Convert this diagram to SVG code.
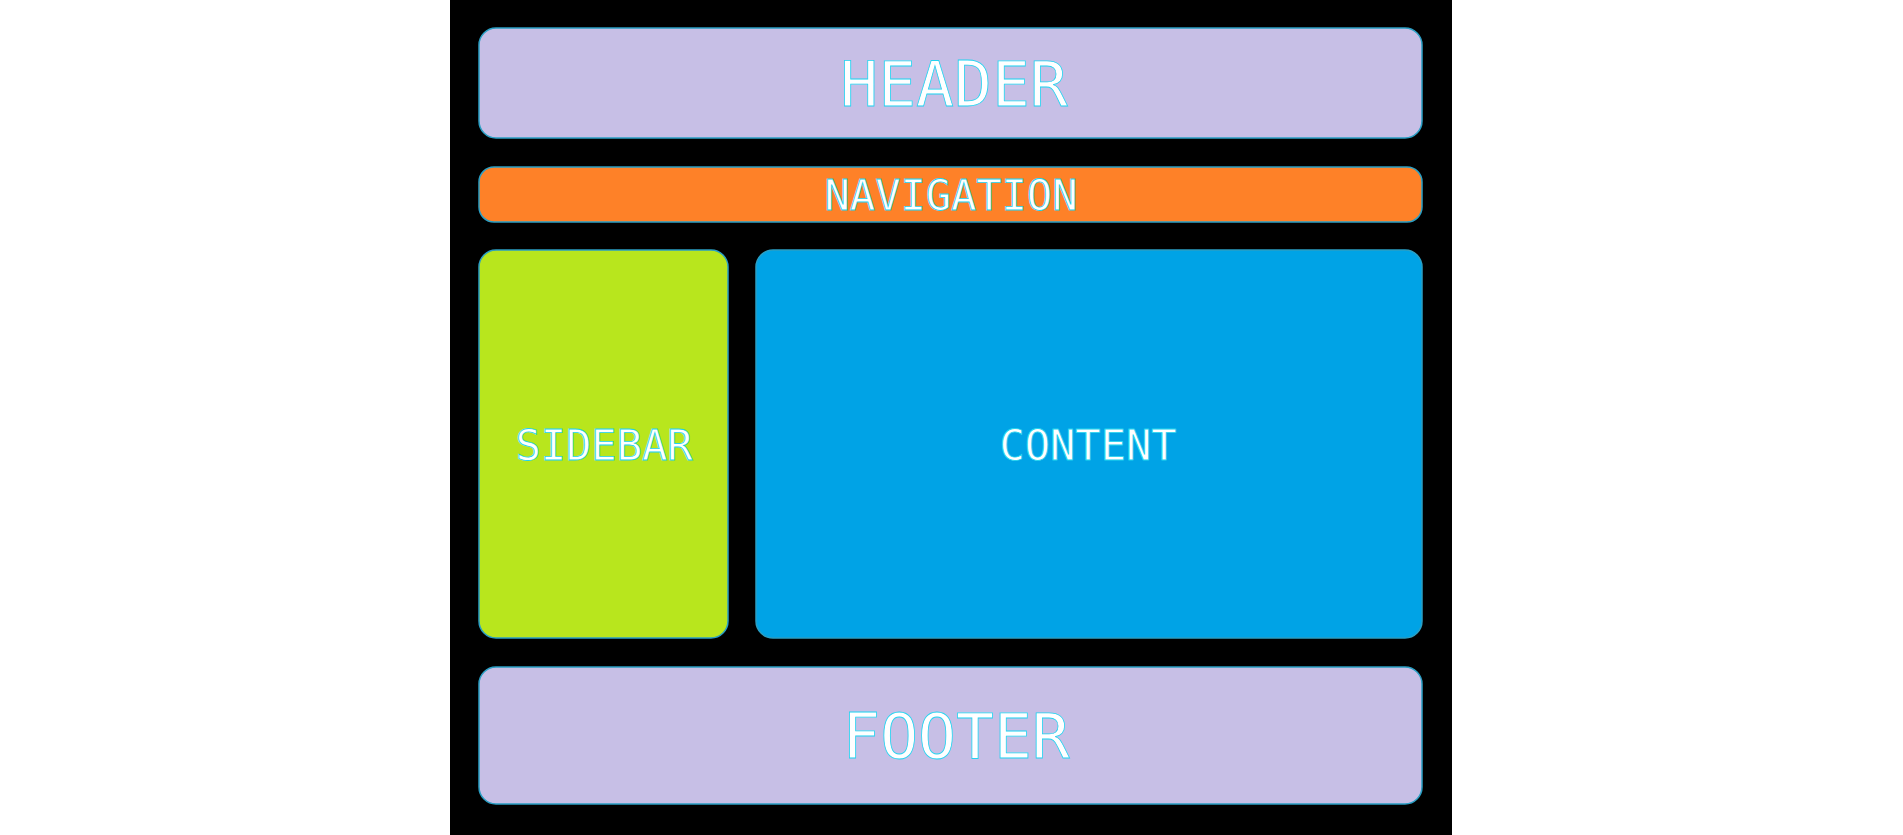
<svg xmlns="http://www.w3.org/2000/svg" width="1903" height="835" viewBox="0 0 1903 835">
<style>
.box{stroke:#2a9fc4;stroke-width:1.5}
.t{font-family:"DejaVu Sans Mono",monospace;fill:#fff;stroke:#22d3f0;stroke-width:0.8;text-anchor:middle}
</style>
<rect x="0" y="0" width="1903" height="835" fill="#fff"/>
<rect x="450" y="0" width="1002" height="835" fill="#000"/>
<g id="header"><rect class="box" x="479" y="28" width="943" height="110" rx="17" fill="#c7bfe6"/><text class="t" x="954" y="106" font-size="63">HEADER</text></g>
<g id="navigation"><rect class="box" x="479" y="167" width="943" height="55" rx="15" fill="#fe8128"/><text class="t" x="951" y="210" font-size="42">NAVIGATION</text></g>
<g id="sidebar"><rect class="box" x="479" y="250" width="249" height="388" rx="17" fill="#b8e61d"/><text class="t" x="604" y="460" font-size="42">SIDEBAR</text></g>
<g id="content"><rect class="box" x="756" y="250" width="666" height="388" rx="17" fill="#00a3e6"/><text class="t" x="1088" y="460" font-size="42">CONTENT</text></g>
<g id="footer"><rect class="box" x="479" y="667" width="943" height="137" rx="17" fill="#c7bfe6"/><text class="t" x="956" y="758" font-size="63">FOOTER</text></g>
<g id="connectors"/>
</svg>
